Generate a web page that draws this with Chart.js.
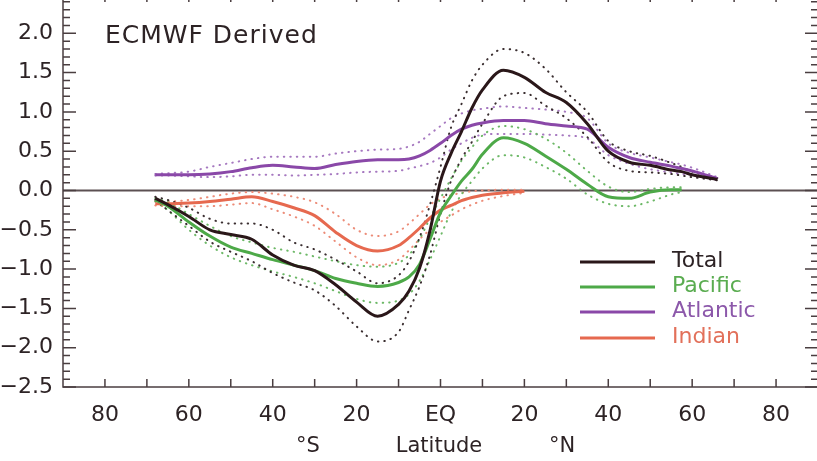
<!DOCTYPE html>
<html>
<head>
<meta charset="utf-8">
<title>ECMWF Derived</title>
<script src="https://cdn.jsdelivr.net/npm/chart.js@4.4.1/dist/chart.umd.min.js"></script>
<style>
  html, body { margin: 0; padding: 0; background: #fff; overflow: hidden; }
  #marco { position: relative; width: 817px; height: 461px; overflow: hidden; }
  #marco canvas { position: absolute; left: 0; top: -20px; }
</style>
</head>
<body>
<div id="marco"><canvas id="grafico" width="830" height="481"></canvas></div>
<script>
// Latitudes (negative = south)
const latitudes = [-68, -65, -60, -55, -50, -45, -40, -35, -30, -25, -20, -15, -10, -7.5, -5, -2.5,
    0, 2.5, 5, 7.5, 10, 15, 20, 25, 30, 35, 40, 45, 50, 55, 57.5, 60, 66];

const total   = [-0.10, -0.18, -0.33, -0.50, -0.56, -0.62, -0.82, -0.95, -1.02, -1.20, -1.42, -1.60, -1.45, -1.28, -0.99, -0.51,
    0.12, 0.47, 0.75, 1.05, 1.28, 1.53, 1.44, 1.25, 1.12, 0.85, 0.50, 0.36, 0.32, 0.26, 0.24, 0.20, 0.14];
const totalHi = [-0.08, -0.12, -0.22, -0.36, -0.42, -0.42, -0.50, -0.66, -0.75, -0.88, -1.03, -1.18, -1.08, -0.90, -0.60, -0.18,
    0.30, 0.80, 1.10, 1.40, 1.60, 1.80, 1.75, 1.55, 1.25, 1.00, 0.63, 0.50, 0.44, 0.35, 0.30, 0.24, 0.16];
const totalLo = [-0.12, -0.25, -0.45, -0.65, -0.78, -0.90, -1.05, -1.17, -1.27, -1.47, -1.73, -1.92, -1.80, -1.52, -1.22, -0.82,
    -0.30, 0.12, 0.40, 0.62, 0.85, 1.20, 1.24, 1.08, 0.92, 0.68, 0.36, 0.25, 0.23, 0.21, 0.19, 0.17, 0.13];

const pacifico   = [-0.12, -0.20, -0.40, -0.58, -0.72, -0.80, -0.88, -0.95, -1.02, -1.12, -1.18, -1.22, -1.17, -1.10, -0.94, -0.62,
    -0.28, -0.07, 0.12, 0.27, 0.46, 0.67, 0.60, 0.44, 0.27, 0.08, -0.08, -0.10, -0.02, 0.01, 0.01, null, null];
const pacificoHi = [-0.10, -0.15, -0.30, -0.45, -0.58, -0.66, -0.73, -0.78, -0.84, -0.90, -0.95, -0.97, -0.92, -0.82, -0.62, -0.35,
    -0.10, 0.15, 0.38, 0.55, 0.70, 0.82, 0.78, 0.66, 0.48, 0.25, 0.05, -0.02, 0.02, 0.04, 0.04, null, null];
const pacificoLo = [-0.14, -0.25, -0.50, -0.70, -0.85, -0.95, -1.03, -1.10, -1.18, -1.28, -1.38, -1.43, -1.40, -1.32, -1.15, -0.88,
    -0.58, -0.28, -0.05, 0.12, 0.28, 0.45, 0.42, 0.30, 0.15, -0.05, -0.17, -0.20, -0.14, -0.05, -0.02, null, null];

const atlantico   = [0.20, 0.20, 0.20, 0.21, 0.24, 0.29, 0.32, 0.30, 0.28, 0.33, 0.37, 0.39, 0.39, 0.40, 0.44, 0.51,
    0.60, 0.70, 0.78, 0.83, 0.86, 0.89, 0.89, 0.85, 0.82, 0.78, 0.55, 0.42, 0.36, 0.31, 0.28, 0.25, 0.15];
const atlanticoHi = [0.21, 0.22, 0.24, 0.30, 0.35, 0.40, 0.43, 0.43, 0.43, 0.47, 0.50, 0.52, 0.53, 0.56, 0.62, 0.72,
    0.82, 0.92, 0.98, 1.02, 1.04, 1.07, 1.05, 1.03, 1.00, 0.92, 0.60, 0.48, 0.42, 0.36, 0.33, 0.29, 0.17];
const atlanticoLo = [0.19, 0.19, 0.18, 0.17, 0.18, 0.20, 0.20, 0.19, 0.20, 0.21, 0.23, 0.24, 0.25, 0.28, 0.31, 0.35,
    0.42, 0.52, 0.60, 0.67, 0.71, 0.72, 0.72, 0.71, 0.70, 0.66, 0.45, 0.34, 0.27, 0.23, 0.21, 0.20, 0.13];

const indico   = [-0.17, -0.17, -0.16, -0.14, -0.11, -0.08, -0.14, -0.22, -0.32, -0.53, -0.70, -0.77, -0.70, -0.60, -0.48, -0.35,
    -0.25, -0.19, -0.13, -0.09, -0.06, -0.03, -0.01, null, null, null, null, null, null, null, null, null, null];
const indicoHi = [-0.14, -0.14, -0.12, -0.08, -0.04, -0.02, -0.04, -0.08, -0.15, -0.30, -0.50, -0.58, -0.52, -0.42, -0.30, -0.18,
    -0.10, -0.06, -0.03, -0.01, 0.00, 0.01, 0.01, null, null, null, null, null, null, null, null, null, null];
const indicoLo = [-0.19, -0.20, -0.20, -0.20, -0.18, -0.16, -0.24, -0.33, -0.45, -0.65, -0.85, -0.95, -0.88, -0.76, -0.62, -0.50,
    -0.40, -0.32, -0.24, -0.18, -0.13, -0.07, -0.03, null, null, null, null, null, null, null, null, null, null];

// Ticks
const xTicks = [-80, -60, -40, -20, 0, 20, 40, 60, 80];
const xTickLabels = ['80', '60', '40', '20', 'EQ', '20', '40', '60', '80'];
const yTicks = [-2.5, -2.0, -1.5, -1.0, -0.5, 0.0, 0.5, 1.0, 1.5, 2.0, 2.5];

const OFF = 20; // el canvas sube 20px sobre la pagina
const TXT = '#2d2325';
const FUENTE = '"DejaVu Sans", sans-serif';

function serie(valores) {
    return latitudes.map((lat, i) => ({ x: lat, y: valores[i] }));
}

function solida(label, valores, color, legendColor) {
    return { label, data: serie(valores), borderColor: color, borderWidth: 3, legendColor,
        pointRadius: 0, cubicInterpolationMode: 'monotone', order: 0, spanGaps: false };
}

function punteada(valores, color) {
    return { label: '', data: serie(valores), borderColor: color, borderWidth: 2,
        borderDash: [0.5, 6], borderCapStyle: 'round', pointRadius: 0,
        cubicInterpolationMode: 'monotone', order: 1, spanGaps: false };
}

const marcoPlugin = {
    id: 'marco',
    beforeDatasetsDraw(chart) {
        const { ctx, chartArea: a, scales: { y } } = chart;
        const y0 = y.getPixelForValue(0);
        ctx.save();
        ctx.strokeStyle = '#5c5052';
        ctx.lineWidth = 2;
        ctx.beginPath();
        ctx.moveTo(a.left, y0);
        ctx.lineTo(a.right, y0);
        ctx.stroke();
        ctx.restore();
    },
    afterDraw(chart) {
        const { ctx, chartArea: a, scales: { x, y } } = chart;
        ctx.save();
        ctx.strokeStyle = '#4a3e40';
        ctx.lineWidth = 1.5;
        ctx.strokeRect(a.left, a.top, a.right - a.left, a.bottom - a.top);
        ctx.beginPath();
        for (let v = -25; v <= 25; v++) {
            const py = y.getPixelForValue(v / 10);
            const len = v % 5 === 0 ? 13 : 7;
            ctx.moveTo(a.left, py); ctx.lineTo(a.left + len, py);
            ctx.moveTo(a.right, py); ctx.lineTo(a.right - len, py);
        }
        for (let v = -80; v <= 80; v += 10) {
            const px = x.getPixelForValue(v);
            ctx.moveTo(px, a.bottom); ctx.lineTo(px, a.bottom - 8);
            ctx.moveTo(px, a.top); ctx.lineTo(px, a.top + 8);
        }
        ctx.stroke();

        // titulo interior
        ctx.fillStyle = TXT;
        ctx.font = '25px ' + FUENTE;
        ctx.letterSpacing = '1px';
        ctx.textBaseline = 'alphabetic';
        ctx.textAlign = 'left';
        ctx.fillText('ECMWF Derived', 105, 43 + OFF);
        ctx.letterSpacing = '0px';

        // eje x
        ctx.font = '21px ' + FUENTE;
        ctx.textAlign = 'center';
        ctx.fillText('°S', 308, 452 + OFF);
        ctx.fillText('Latitude', 439, 452 + OFF);
        ctx.fillText('°N', 562, 452 + OFF);

        // leyenda
        const filas = [262, 287, 312, 338];
        let k = 0;
        ctx.font = '22px ' + FUENTE;
        ctx.textAlign = 'left';
        ctx.textBaseline = 'middle';
        chart.data.datasets.forEach(ds => {
            if (!ds.legendColor) return;
            const yy = filas[k++] + OFF;
            ctx.strokeStyle = ds.borderColor;
            ctx.lineWidth = 3;
            ctx.beginPath();
            ctx.moveTo(580, yy);
            ctx.lineTo(655, yy);
            ctx.stroke();
            ctx.fillStyle = ds.legendColor;
            ctx.fillText(ds.label, 672, yy - 1);
        });
        ctx.restore();
    }
};

const ctxGrafico = document.getElementById('grafico').getContext('2d');
new Chart(ctxGrafico, {
    type: 'line',
    data: {
        datasets: [
            solida('Total', total, '#2a1719', '#2d2325'),
            solida('Pacific', pacifico, '#4da948', '#5aac50'),
            solida('Atlantic', atlantico, '#8a48a8', '#8c58aa'),
            solida('Indian', indico, '#e6694f', '#e2705a'),
            punteada(totalHi, '#3a2e30'),
            punteada(totalLo, '#3a2e30'),
            punteada(pacificoHi, '#6cb866'),
            punteada(pacificoLo, '#6cb866'),
            punteada(atlanticoHi, '#a678c0'),
            punteada(atlanticoLo, '#a678c0'),
            punteada(indicoHi, '#ec8c78'),
            punteada(indicoLo, '#ec8c78')
        ]
    },
    options: {
        responsive: false,
        animation: false,
        layout: { padding: { top: 14, right: 12, left: 0, bottom: 0 } },
        scales: {
            x: {
                type: 'linear',
                min: -90,
                max: 90,
                grid: { display: false, drawTicks: false },
                border: { display: false },
                afterBuildTicks: s => { s.ticks = xTicks.map(v => ({ value: v })); },
                afterFit: s => { s.height = 74; s.paddingLeft = 0; s.paddingRight = 0; },
                ticks: {
                    autoSkip: false,
                    maxRotation: 0,
                    padding: 15,
                    color: TXT,
                    font: { family: FUENTE, size: 22 },
                    callback: (v) => xTickLabels[xTicks.indexOf(v)]
                }
            },
            y: {
                min: -2.5,
                max: 2.5,
                grid: { display: false, drawTicks: false },
                border: { display: false },
                afterBuildTicks: s => { s.ticks = yTicks.map(v => ({ value: v })); },
                afterFit: s => { s.width = 63; s.paddingTop = 0; s.paddingBottom = 0; },
                ticks: {
                    padding: 10,
                    color: TXT,
                    font: { family: FUENTE, size: 22 },
                    callback: (v) => (v < 0 ? '\u2212' : '') + Math.abs(v).toFixed(1)
                }
            }
        },
        plugins: {
            legend: { display: false },
            tooltip: { enabled: false }
        }
    },
    plugins: [marcoPlugin]
});
</script>
</body>
</html>
